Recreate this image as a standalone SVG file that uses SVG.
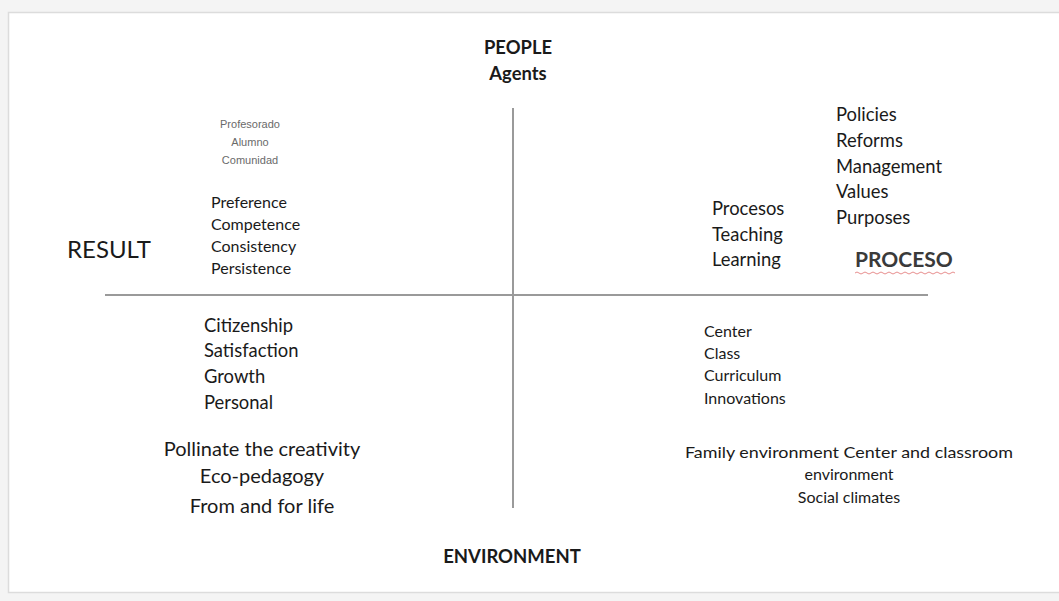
<svg xmlns="http://www.w3.org/2000/svg" width="1059" height="601" viewBox="0 0 1059 601">
<style>
text{font-family:Lato,"Open Sans","Liberation Sans",sans-serif;fill:#1a1a1a}
.b{font-weight:bold}
.s14{font-size:16px}
.s16{font-size:18.4px}
.s13{font-size:16px}
.g{font-family:"Liberation Sans",Arial,sans-serif;font-size:11px;fill:#6a6a6a}
.ax{stroke:#9a9a9a;stroke-width:2;fill:none}
</style>
<rect x="0" y="0" width="1059" height="601" fill="#f4f4f4"/>
<rect x="8.5" y="12.5" width="1060" height="580" fill="#ffffff" stroke="#dcdcdc" stroke-width="1.5"/>
<g id="connectors">
<line class="ax" x1="513" y1="108" x2="513" y2="508"/>
<line class="ax" x1="105" y1="295" x2="928" y2="295"/>
</g>
<g id="people">
<text class="b" font-size="18.4" x="518" y="54" text-anchor="middle">PEOPLE</text>
<text class="b" font-size="18.4" x="518" y="80" text-anchor="middle">Agents</text>
</g>
<g id="agents-list">
<text class="g" x="250" y="128" text-anchor="middle">Profesorado</text>
<text class="g" x="250" y="146" text-anchor="middle">Alumno</text>
<text class="g" x="250" y="164" text-anchor="middle">Comunidad</text>
</g>
<g id="result-items">
<text class="s14" x="211" y="208">Preference</text>
<text class="s14" x="211" y="230">Competence</text>
<text class="s14" x="211" y="252">Consistency</text>
<text class="s14" x="211" y="274">Persistence</text>
</g>
<g id="result">
<text x="67" y="258" font-size="24">RESULT</text>
</g>
<g id="policies">
<text class="s16" x="836" y="121">Policies</text>
<text class="s16" x="836" y="147">Reforms</text>
<text class="s16" x="836" y="173">Management</text>
<text class="s16" x="836" y="198">Values</text>
<text class="s16" x="836" y="224">Purposes</text>
</g>
<g id="procesos">
<text class="s16" x="712" y="215">Procesos</text>
<text class="s16" x="712" y="241">Teaching</text>
<text class="s16" x="712" y="266">Learning</text>
</g>
<g id="proceso">
<text class="b" x="855" y="267" font-size="21" style="fill:#3a3a3a">PROCESO</text>
<path d="M855 273 q2 -2 4 0 t4 0 t4 0 t4 0 t4 0 t4 0 t4 0 t4 0 t4 0 t4 0 t4 0 t4 0 t4 0 t4 0 t4 0 t4 0 t4 0 t4 0 t4 0 t4 0 t4 0 t4 0 t4 0 t4 0 t4 0" stroke="#e07070" stroke-width="0.8" fill="none"/>
</g>
<g id="citizenship">
<text class="s16" x="204" y="332">Citizenship</text>
<text class="s16" x="204" y="357">Satisfaction</text>
<text class="s16" x="204" y="383">Growth</text>
<text class="s16" x="204" y="409">Personal</text>
</g>
<g id="center">
<text class="s13" x="704" y="337">Center</text>
<text class="s13" x="704" y="359">Class</text>
<text class="s13" x="704" y="381">Curriculum</text>
<text class="s13" x="704" y="404">Innovations</text>
</g>
<g id="pollinate">
<text x="262" y="456" font-size="20" text-anchor="middle">Pollinate the creativity</text>
<text x="262" y="483" font-size="20" text-anchor="middle">Eco-pedagogy</text>
<text x="262" y="513" font-size="20" text-anchor="middle">From and for life</text>
</g>
<g id="family">
<text class="s13" x="849" y="458" text-anchor="middle" textLength="328" lengthAdjust="spacingAndGlyphs">Family environment Center and classroom</text>
<text class="s13" x="849" y="480" text-anchor="middle">environment</text>
<text class="s13" x="849" y="503" text-anchor="middle">Social climates</text>
</g>
<g id="environment">
<text class="b" x="512" y="563" font-size="18.5" text-anchor="middle">ENVIRONMENT</text>
</g>
</svg>
